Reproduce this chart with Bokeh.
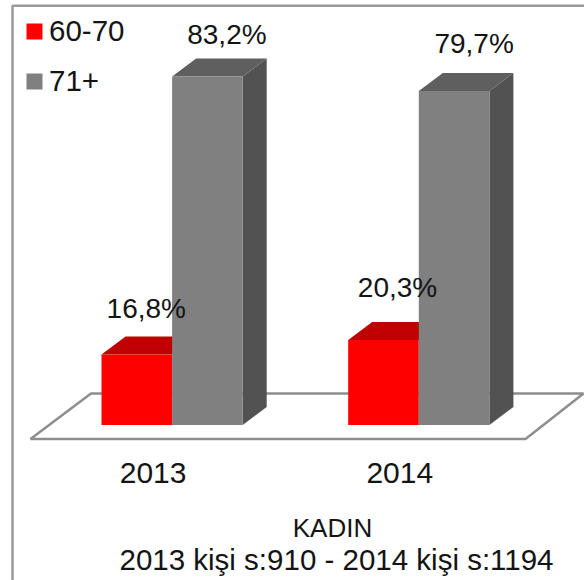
from bokeh.plotting import figure
from bokeh.models import (ColumnDataSource, Legend, LegendItem, LinearAxis, FixedTicker,
                          Label, Range1d)
from bokeh.core.properties import value
from bokeh.embed import file_html
from bokeh.resources import INLINE

# ---- data
categories = ["2013", "2014"]
series_names = ["60-70", "71+"]
values_6070 = [16.8, 20.3]
values_71 = [83.2, 79.7]
labels_6070 = ["16,8%", "20,3%"]
labels_71 = ["83,2%", "79,7%"]
title_line_1 = "KADIN"
title_line_2 = "2013 kişi s:910 - 2014 kişi s:1194"

# ---- layout and style
W, H = 584, 580
PX_X = 246.7          # pixels per category
PX_Y = 4.19           # pixels per percent
X0_PX, Y0_PX = 171.6, 424.5
BAR_W = 70.6 / PX_X
DX, DY = 24.0 / PX_X, 18.0 / PX_Y   # 3-D depth
TICK_SHIFT = -19.0 / PX_X
FONT = "Liberation Sans"
RED, RED_TOP = "#ff0000", "#c00000"
GRAY, GRAY_TOP, GRAY_SIDE = "#808080", "#5f5f5f", "#525252"
FLOOR = "#8e8e8e"
BORDER = "#9a9a9a"
TXT = "#141414"

p = figure(width=W, height=H, output_backend="svg", toolbar_location=None,
           x_range=Range1d(-X0_PX / PX_X, (W - X0_PX) / PX_X),
           y_range=Range1d((Y0_PX - H) / PX_Y, Y0_PX / PX_Y),
           x_axis_location=None, y_axis_location=None,
           min_border=0, min_border_left=0, min_border_right=0,
           min_border_top=0, min_border_bottom=0, outline_line_color=None)
p.grid.visible = False
p.styles = {"position": "absolute", "left": "0px", "top": "0px"}
p.background_fill_color = "#ffffff"
p.border_fill_color = "#ffffff"


def sx_(px):
    return (px - X0_PX) / PX_X


def sy_(py):
    return (Y0_PX - py) / PX_Y


# outer chart border (runs off the right and bottom of the picture)
p.line([sx_(W + 20), sx_(12), sx_(12)], [sy_(5.3), sy_(5.3), sy_(H + 20)],
       line_color=BORDER, line_width=2.5)

# floor of the 3-D chart
p.patch([sx_(30), sx_(525), sx_(583), sx_(90.5)],
        [sy_(438.5), sy_(438.5), sy_(393), sy_(393)],
        fill_color="#ffffff", line_color=FLOOR, line_width=2.5)

xs_red = [i - BAR_W / 2 for i in range(len(categories))]
xs_gray = [i + BAR_W / 2 for i in range(len(categories))]


def top_face(x, v):
    l, r = x - BAR_W / 2, x + BAR_W / 2
    return [l, r, r + DX, l + DX], [v, v, v + DY, v + DY]


def side_face(x, v):
    r = x + BAR_W / 2
    return [r, r + DX, r + DX, r], [0, DY, v + DY, v]


legend_red = legend_gray = None
for i in range(len(categories)):
    tx, ty = top_face(xs_red[i], values_6070[i])
    p.patch(tx, ty, fill_color=RED_TOP, line_color=None)
    legend_red = p.vbar(x=[xs_red[i]], top=[values_6070[i]], bottom=0, width=BAR_W,
                        fill_color=RED, line_color=None)
    sx, sy = side_face(xs_gray[i], values_71[i])
    p.patch(sx, sy, fill_color=GRAY_SIDE, line_color=None)
    tx, ty = top_face(xs_gray[i], values_71[i])
    p.patch(tx, ty, fill_color=GRAY_TOP, line_color=None)
    legend_gray = p.vbar(x=[xs_gray[i]], top=[values_71[i]], bottom=0, width=BAR_W,
                         fill_color=GRAY, line_color=None)

# value labels
src = ColumnDataSource(dict(
    x=xs_red + xs_gray,
    y=values_6070 + values_71,
    t=labels_6070 + labels_71,
    dx=[9.5, 14, 19.5, 20],
    dy=[-46, -52, -42, -48],
))
p.text("x", "y", text="t", x_offset="dx", y_offset="dy", source=src,
       text_font=value(FONT), text_font_size="28px", text_color=TXT,
       text_align="center", text_baseline="middle")

# category axis sitting under the floor
ticks = [TICK_SHIFT, 1 + TICK_SHIFT]
ax = LinearAxis(fixed_location=sy_(438.5),
                ticker=FixedTicker(ticks=ticks),
                major_label_overrides={ticks[0]: categories[0], ticks[1]: categories[1]},
                axis_line_color=None, major_tick_line_color=None, minor_tick_line_color=None,
                major_label_text_font=FONT, major_label_text_font_size="30px",
                major_label_text_color=TXT, major_label_standoff=18)
p.add_layout(ax, "below")

# legend
leg = Legend(items=[LegendItem(label=series_names[0], renderers=[legend_red]),
                    LegendItem(label=series_names[1], renderers=[legend_gray])],
             location=(24, H - 98), orientation="vertical",
             glyph_width=20, glyph_height=20, label_standoff=5, spacing=16,
             padding=0, margin=0, background_fill_alpha=0, border_line_color=None,
             label_text_font=FONT, label_text_font_size="29.5px", label_text_color=TXT)
p.add_layout(leg, "center")

# captions
for txt, cx, cy, fs in [(title_line_1, 332, 527, "26px"), (title_line_2, 336, 559, "29.5px")]:
    p.add_layout(Label(x=cx, y=H - cy, x_units="screen", y_units="screen", text=txt,
                       text_font=FONT, text_font_size=fs, text_color=TXT,
                       text_align="center", text_baseline="middle"))

open("out.html", "w").write(file_html(p, INLINE))
